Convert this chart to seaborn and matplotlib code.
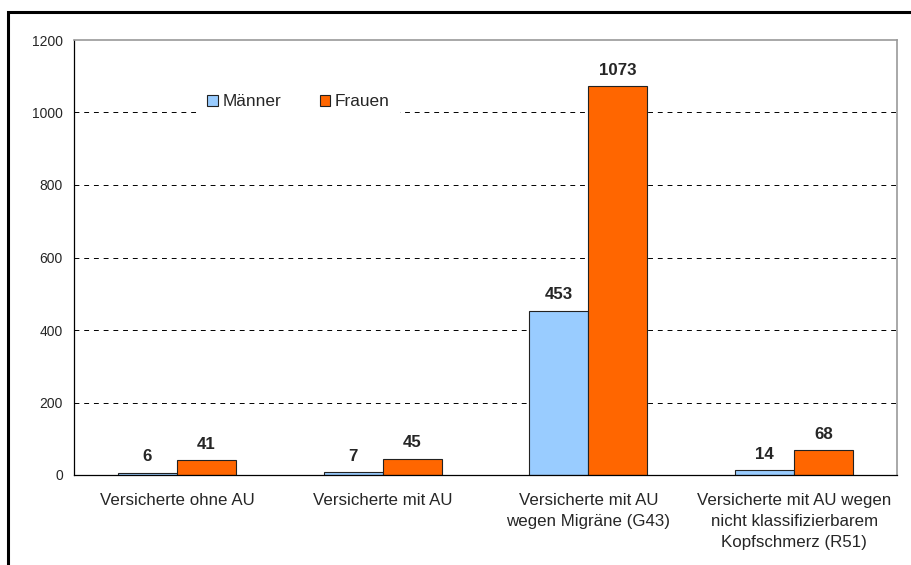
import matplotlib
matplotlib.use("Agg")
import matplotlib.pyplot as plt
import seaborn as sns
import pandas as pd
from matplotlib.patches import Rectangle

categories = [
    "Versicherte ohne AU",
    "Versicherte mit AU",
    "Versicherte mit AU\nwegen Migräne (G43)",
    "Versicherte mit AU wegen\nnicht klassifizierbarem\nKopfschmerz (R51)",
]
maenner = [6, 7, 453, 14]
frauen = [41, 45, 1073, 68]
series = ["Männer", "Frauen"]
colors = ["#99CCFF", "#FF6600"]
y_ticks = [0, 200, 400, 600, 800, 1000, 1200]

df = pd.DataFrame({
    "Kategorie": categories * 2,
    "Gruppe": [series[0]] * len(categories) + [series[1]] * len(categories),
    "Wert": maenner + frauen,
})

sns.set_theme(style="white")
plt.rcParams["font.family"] = ["Liberation Sans", "DejaVu Sans"]

fig = plt.figure(figsize=(9.11, 5.65), dpi=100)
ax = fig.add_axes([74 / 911, 90 / 565, (897 - 74) / 911, (475 - 40) / 565])

sns.barplot(data=df, x="Kategorie", y="Wert", hue="Gruppe", order=categories,
            hue_order=series, palette=colors, width=0.574, saturation=1,
            edgecolor="#222222", linewidth=0.8, ax=ax, legend=True)

for cont in ax.containers:
    ax.bar_label(cont, fmt="%d", padding=6, fontsize=12.2, fontweight="bold")

ax.set_xlim(-0.5, len(categories) - 0.5)
ax.set_ylim(0, 1200)
ax.set_yticks(y_ticks)
ax.set_yticklabels([str(v) for v in y_ticks], fontsize=10)
ax.tick_params(axis="y", direction="out", length=6, width=0.8, color="black", pad=2)
ax.tick_params(axis="x", which="major", length=0, labelsize=12.2, pad=13)
for lbl in ax.get_xticklabels():
    lbl.set_linespacing(1.5)
ax.set_xticks([i - 0.5 for i in range(len(categories) + 1)], minor=True)
ax.tick_params(axis="x", which="minor", direction="out", length=6, width=0.8, color="black")
ax.set_xlabel("")
ax.set_ylabel("")

for v in y_ticks[1:-1]:
    ax.axhline(v, color="black", linestyle=(0, (5, 5)), linewidth=0.7, zorder=0)

for side in ("left", "bottom"):
    ax.spines[side].set_color("black")
    ax.spines[side].set_linewidth(0.9)
for side in ("top", "right"):
    ax.spines[side].set_color("#999999")
    ax.spines[side].set_linewidth(1.2)

leg = ax.legend(loc="center", ncol=2, frameon=True, fontsize=12.4,
                handlelength=0.6, handleheight=0.6, handletextpad=0.3,
                columnspacing=2.2, borderpad=0.6)
leg.set_bbox_to_anchor((0.273, (475 - 102) / 435), transform=ax.transAxes)
leg.get_frame().set_facecolor("white")
leg.get_frame().set_edgecolor("none")
leg.get_frame().set_alpha(1)
leg.set_zorder(5)

fig.patches.append(Rectangle((8 / 911, -0.1), 1.2, (565 - 12) / 565 + 0.1,
                             transform=fig.transFigure, fill=False,
                             edgecolor="black", linewidth=2.2))

fig.savefig("out.png", dpi=100)
